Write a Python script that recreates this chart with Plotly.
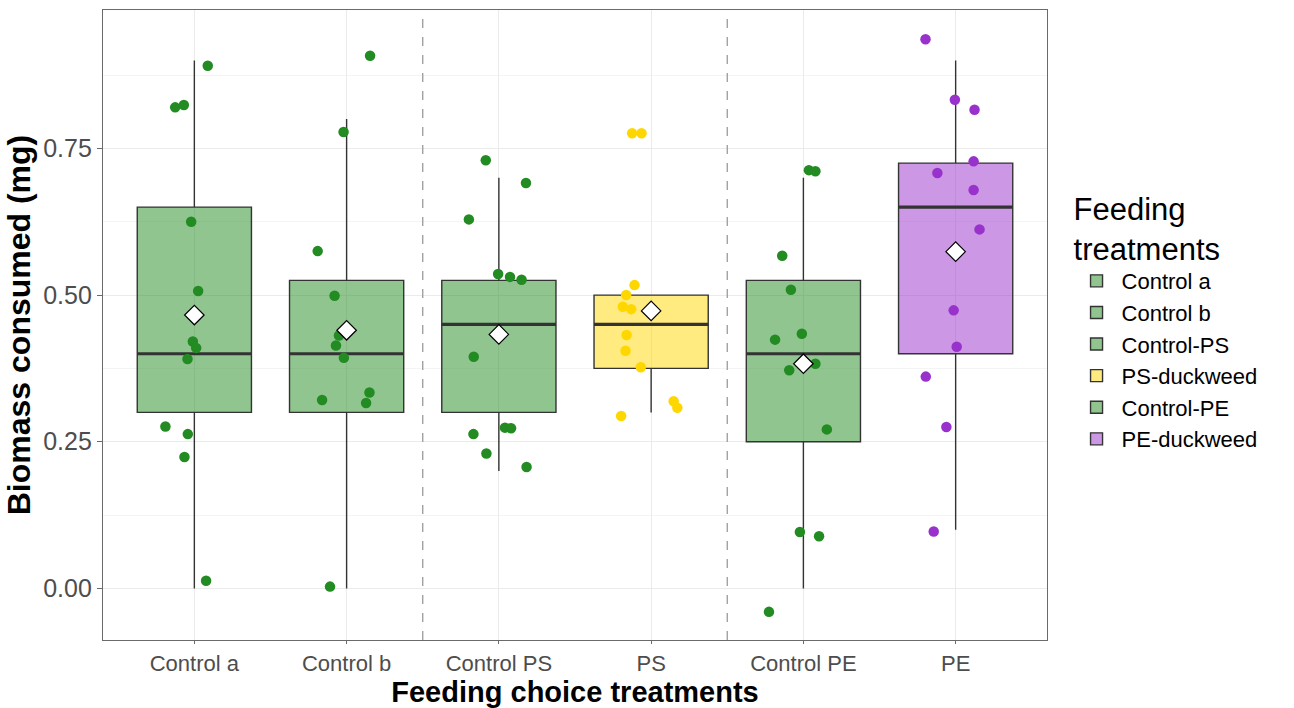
import plotly.graph_objects as go

# Treatment categories along the x axis and their legend names
tick_labels = ["Control a", "Control b", "Control PS", "PS", "Control PE", "PE"]
legend_names = ["Control a", "Control b", "Control-PS", "PS-duckweed", "Control-PE", "PE-duckweed"]

# Box summary statistics (mg consumed)
q1 = [0.30, 0.30, 0.30, 0.375, 0.25, 0.40]
median = [0.40, 0.40, 0.45, 0.45, 0.40, 0.65]
q3 = [0.65, 0.525, 0.525, 0.50, 0.525, 0.725]
lower_whisker = [0.0, 0.0, 0.20, 0.30, 0.0, 0.10]
upper_whisker = [0.90, 0.80, 0.70, 0.50, 0.70, 0.90]
group_means = [0.466, 0.440, 0.433, 0.473, 0.383, 0.574]

# Individual replicate values per treatment
control_a = [0.891, 0.820, 0.824, 0.625, 0.507, 0.421, 0.410, 0.391, 0.276, 0.263, 0.224, 0.013]
control_b = [0.908, 0.778, 0.575, 0.499, 0.431, 0.414, 0.393, 0.334, 0.321, 0.316, 0.003]
control_ps = [0.730, 0.691, 0.629, 0.536, 0.531, 0.526, 0.395, 0.274, 0.273, 0.263, 0.230, 0.207]
ps_duckweed = [0.776, 0.776, 0.517, 0.500, 0.480, 0.476, 0.432, 0.405, 0.377, 0.319, 0.308, 0.294]
control_pe = [0.713, 0.711, 0.567, 0.509, 0.434, 0.424, 0.383, 0.372, 0.271, 0.096, 0.089, -0.040]
pe_duckweed = [0.936, 0.833, 0.816, 0.728, 0.708, 0.679, 0.612, 0.474, 0.412, 0.361, 0.275, 0.097]

# Horizontal jitter applied to each replicate (category units)
jitter_a = [0.088, -0.126, -0.069, -0.021, 0.025, -0.010, 0.012, -0.045, -0.190, -0.043, -0.065, 0.077]
jitter_b = [0.154, -0.020, -0.190, -0.079, -0.050, -0.070, -0.018, 0.150, -0.161, 0.128, -0.109]
jitter_cps = [-0.086, 0.178, -0.197, -0.005, 0.073, 0.149, -0.165, 0.040, 0.080, -0.167, -0.082, 0.182]
jitter_ps = [-0.125, -0.063, -0.109, -0.164, -0.186, -0.131, -0.161, -0.168, -0.068, 0.148, 0.172, -0.197]
jitter_cpe = [0.036, 0.079, -0.139, -0.082, -0.010, -0.186, 0.079, -0.093, 0.154, -0.023, 0.103, -0.226]
jitter_pe = [-0.198, -0.005, 0.124, 0.118, -0.120, 0.118, 0.157, -0.013, 0.007, -0.196, -0.061, -0.144]

values = [control_a, control_b, control_ps, ps_duckweed, control_pe, pe_duckweed]
jitters = [jitter_a, jitter_b, jitter_cps, jitter_ps, jitter_cpe, jitter_pe]

GREEN = (34, 139, 34)
GOLD = (255, 215, 0)
ORCHID = (153, 50, 204)
group_rgb = [GREEN, GREEN, GREEN, GOLD, GREEN, ORCHID]

BOX_WIDTH = 0.75
OUTLINE = "#333333"
FONT = "Liberation Sans, Arial, sans-serif"

fig = go.Figure()
positions = list(range(1, len(tick_labels) + 1))

# Boxes (pre-computed statistics), no caps on whiskers
for i, pos in enumerate(positions):
    r, g, b = group_rgb[i]
    fig.add_trace(go.Box(
        x=[pos], q1=[q1[i]], median=[median[i]], q3=[q3[i]],
        lowerfence=[lower_whisker[i]], upperfence=[upper_whisker[i]],
        width=BOX_WIDTH, whiskerwidth=0, boxpoints=False,
        fillcolor=f"rgba({r},{g},{b},0.5)",
        line=dict(color=OUTLINE, width=1.4),
        name=legend_names[i], showlegend=True, hoverinfo="skip",
    ))

# Thick median bars
for i, pos in enumerate(positions):
    fig.add_trace(go.Scatter(
        x=[pos - BOX_WIDTH / 2, pos + BOX_WIDTH / 2], y=[median[i], median[i]],
        mode="lines", line=dict(color=OUTLINE, width=3.2),
        showlegend=False, hoverinfo="skip",
    ))

# Jittered replicate points
for i, pos in enumerate(positions):
    r, g, b = group_rgb[i]
    fig.add_trace(go.Scatter(
        x=[pos + j for j in jitters[i]], y=values[i], mode="markers",
        marker=dict(size=10.5, color=f"rgb({r},{g},{b})", line=dict(width=0)),
        showlegend=False, hoverinfo="skip",
    ))

# Group means as white diamonds
fig.add_trace(go.Scatter(
    x=positions, y=group_means, mode="markers",
    marker=dict(symbol="diamond", size=15, color="white", line=dict(color="black", width=1.2)),
    showlegend=False, hoverinfo="skip",
))

# Dashed separators between the choice pairs
for xsep in (2.5, 4.5):
    fig.add_shape(type="line", xref="x", yref="paper", x0=xsep, x1=xsep, y0=0, y1=1,
                  line=dict(color="#9a9a9a", width=1.3, dash="dash"), layer="above")

fig.update_layout(
    width=1294, height=708,
    margin=dict(l=103, r=247, t=10, b=68),
    paper_bgcolor="white", plot_bgcolor="white",
    boxmode="overlay",
    font=dict(family=FONT, color="#4d4d4d"),
    legend=dict(
        title=dict(text="Feeding<br>treatments", font=dict(family=FONT, size=31, color="black")),
        font=dict(family=FONT, size=22, color="black"),
        x=1.026, xanchor="left", y=0.731, yanchor="top",
        itemwidth=40,
        bgcolor="rgba(0,0,0,0)", tracegroupgap=0,
    ),
    xaxis=dict(
        range=[0.4, 6.6], tickmode="array", tickvals=positions, ticktext=tick_labels,
        automargin=False,
        showgrid=True, gridcolor="#ebebeb", gridwidth=1, zeroline=False,
        showline=True, mirror=True, linecolor="#6a6a6a", linewidth=1.3,
        ticks="outside", ticklen=3, tickcolor="#6a6a6a", tickwidth=1.2,
        tickfont=dict(family=FONT, size=22, color="#4d4d4d"),
        title=dict(text="Feeding choice treatments", standoff=7,
                   font=dict(family=FONT, size=29, color="black", weight="bold")),
    ),
    yaxis=dict(
        range=[-0.088, 0.986], tickmode="linear", tick0=0, dtick=0.25, tickformat=".2f",
        automargin=False,
        showgrid=True, gridcolor="#ebebeb", gridwidth=1, zeroline=False,
        minor=dict(dtick=0.125, showgrid=True, gridcolor="#f4f4f4", gridwidth=1),
        showline=True, mirror=True, linecolor="#6a6a6a", linewidth=1.3,
        ticks="outside", ticklen=5, tickcolor="#6a6a6a", tickwidth=1.2,
        tickfont=dict(family=FONT, size=25, color="#4d4d4d"),
        title=dict(text="Biomass consumed (mg)", standoff=2,
                   font=dict(family=FONT, size=32, color="black", weight="bold")),
    ),
)

fig.write_html("out.html")
